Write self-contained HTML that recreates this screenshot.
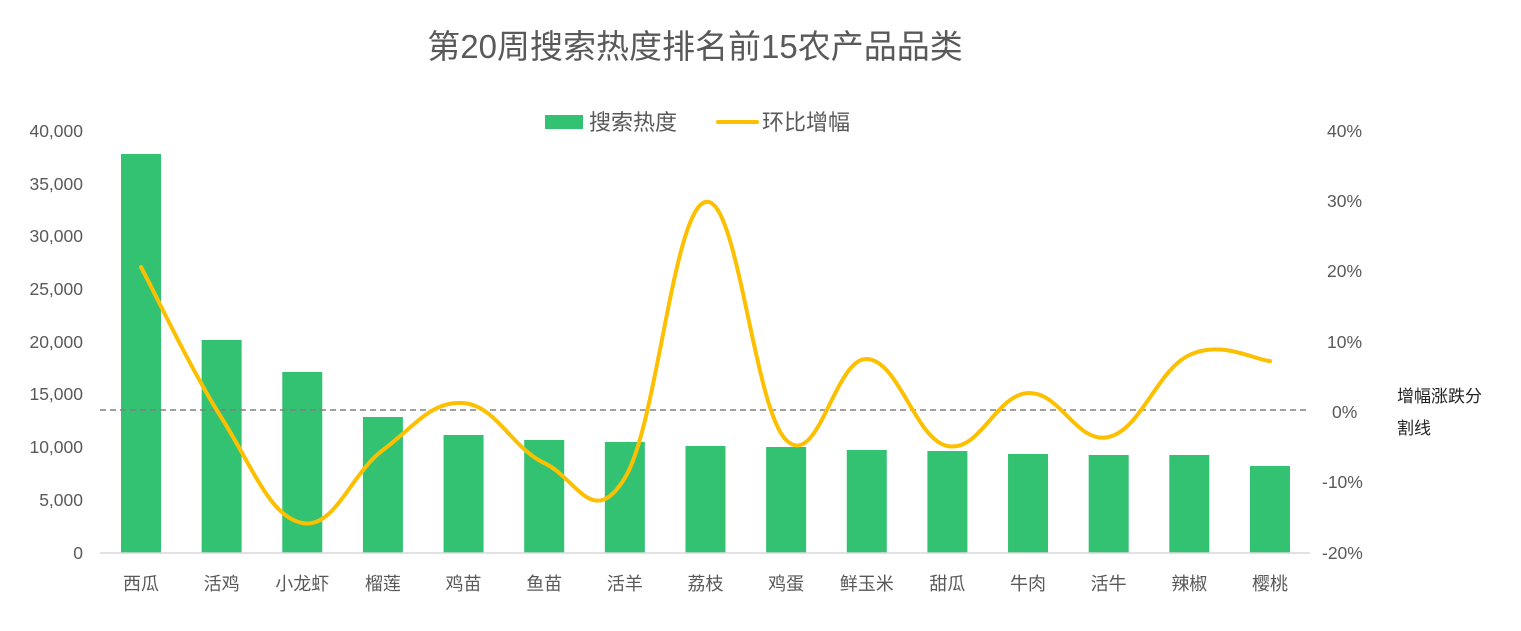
<!DOCTYPE html>
<html><head><meta charset="utf-8"><style>
body{margin:0;background:#fff;}
svg text{font-family:"Liberation Sans","Noto Sans CJK SC",sans-serif;fill:#595959;}
</style></head><body>
<svg id="c" width="1521" height="626" xmlns="http://www.w3.org/2000/svg">
<text x="695" y="58" font-size="33" text-anchor="middle">第20周搜索热度排名前15农产品品类</text>
<rect x="545" y="115" width="38" height="14" fill="#33c172"/>
<text x="589" y="130" font-size="22">搜索热度</text>
<line x1="718" y1="122" x2="757" y2="122" stroke="#fcc000" stroke-width="4" stroke-linecap="round"/>
<text x="762" y="130" font-size="22">环比增幅</text>
<g font-size="17.5" text-anchor="end">
<text x="83" y="137">40,000</text><text x="83" y="190">35,000</text><text x="83" y="242">30,000</text>
<text x="83" y="295">25,000</text><text x="83" y="348">20,000</text><text x="83" y="400">15,000</text>
<text x="83" y="453">10,000</text><text x="83" y="506">5,000</text><text x="83" y="559">0</text>
</g>
<g font-size="17.5">
<text x="1327" y="137">40%</text><text x="1327" y="207">30%</text><text x="1327" y="277">20%</text>
<text x="1327" y="348">10%</text><text x="1332" y="418">0%</text><text x="1322" y="488">-10%</text>
<text x="1322" y="559">-20%</text>
</g>
<text x="1397" y="402" font-size="17" style="fill:#222">增幅涨跌分</text>
<text x="1397" y="434" font-size="17" style="fill:#222">割线</text>
<g id="bars"></g>
<line x1="100" y1="553" x2="1310" y2="553" stroke="#d9d9d9" stroke-width="1.5"/>
<line x1="100" y1="410" x2="1310" y2="410" stroke="#808080" stroke-width="1.5" stroke-dasharray="6,4"/>
<path id="ln" fill="none" stroke="#fcc000" stroke-width="4" stroke-linecap="round"/>
<g id="lbl" font-size="18" text-anchor="middle"></g>
</svg>
<script>
var names=["西瓜","活鸡","小龙虾","榴莲","鸡苗","鱼苗","活羊","荔枝","鸡蛋","鲜玉米","甜瓜","牛肉","活牛","辣椒","樱桃"];
var tops=[154,340,372,417,435,440,442,446,447,450,451,454,455,455,466];
var ly=[267,418,523,450,403,463,478,202,440,359,446,393,437,355,361];
var b="",l="",pts=[];
for(var i=0;i<15;i++){var cx=141+i*80.64;
b+='<rect x="'+(cx-20)+'" y="'+tops[i]+'" width="40" height="'+(553-tops[i])+'" fill="#33c172"/>';
l+='<text x="'+cx+'" y="590">'+names[i]+'</text>';pts.push([cx,ly[i]]);}
document.getElementById("bars").innerHTML=b;document.getElementById("lbl").innerHTML=l;
var d="M"+pts[0][0]+","+pts[0][1];
for(var i=0;i<14;i++){var p0=pts[Math.max(i-1,0)],p1=pts[i],p2=pts[i+1],p3=pts[Math.min(i+2,14)];
var t=0.2;d+=" C"+(p1[0]+(p2[0]-p0[0])*t)+","+(p1[1]+(p2[1]-p0[1])*t)+" "+(p2[0]-(p3[0]-p1[0])*t)+","+(p2[1]-(p3[1]-p1[1])*t)+" "+p2[0]+","+p2[1];}
document.getElementById("ln").setAttribute("d",d);
</script>
</body></html>
